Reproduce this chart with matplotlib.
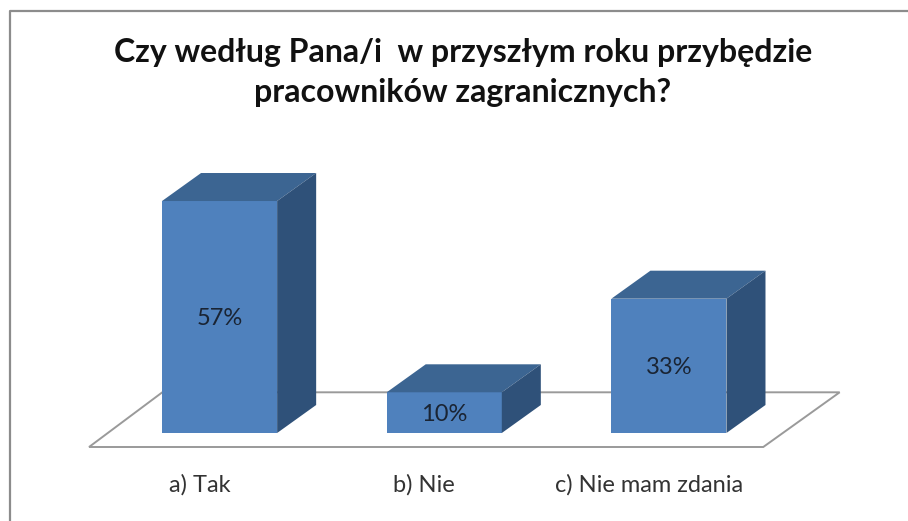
import matplotlib
matplotlib.use("Agg")
import matplotlib.pyplot as plt
from matplotlib.lines import Line2D
from matplotlib.patches import Polygon

categories = ["a) Tak", "b) Nie", "c) Nie mam zdania"]
values = [57, 10, 33]
title = "Czy według Pana/i  w przyszłym roku przybędzie\npracowników zagranicznych?"

W, H = 908, 521
FRONT = "#4F81BD"
TOP = "#3C6592"
SIDE = "#2F5179"
BAR_W = 115 / 224.5
DX = 39 / 224.5   # depth of the fake 3d, in category units
DY = 28 / 4.07    # same in percent

plt.rcParams["font.family"] = ["Lato", "DejaVu Sans"]

fig = plt.figure(figsize=(W / 100, H / 100), dpi=100)
# y=0 sits at pixel 433, one percent is 4.07 px, categories 224.5 px apart
ax = fig.add_axes([107.25 / W, (H - 433) / H, 674 / W, 244.2 / H])
ax.set_xlim(-0.5, 2.5)
ax.set_ylim(0, 60)
ax.axis("off")

# frame, only left and top are visible in the picture
fig.add_artist(Line2D([10 / W, 10 / W, 1], [0, 1 - 11 / H, 1 - 11 / H], color="#8C8C8C", lw=1.6))

# floor
ax.add_patch(Polygon([(-0.581, -3.44), (2.42, -3.44), (2.76, 10), (-0.255, 10)],
                     closed=True, facecolor="white", edgecolor="#9A9A9A", lw=1.4,
                     clip_on=False, zorder=1))

xs = list(range(len(values)))
ax.bar(xs, values, width=BAR_W, color=FRONT, zorder=3, clip_on=False)
for x, v in zip(xs, values):
    l, r = x - BAR_W / 2, x + BAR_W / 2
    ax.add_patch(Polygon([(l, v), (r, v), (r + DX, v + DY), (l + DX, v + DY)],
                         closed=True, facecolor=TOP, edgecolor="none", clip_on=False, zorder=3))
    ax.add_patch(Polygon([(r, 0), (r + DX, DY), (r + DX, v + DY), (r, v)],
                         closed=True, facecolor=SIDE, edgecolor="none", clip_on=False, zorder=3))
    ax.text(x, v / 2 - 0.4, f"{v}%", ha="center", va="center", fontsize=17, color="#1A2433", zorder=4)
    ax.text(x - 0.09, -12.8, categories[x], ha="center", va="center", fontsize=17, color="#333333")

fig.text(463 / W, 1 - 72.5 / H, title, ha="center", va="center", fontsize=23,
         fontweight="bold", color="#111111", linespacing=1.45)

fig.savefig("out.png", dpi=100)
